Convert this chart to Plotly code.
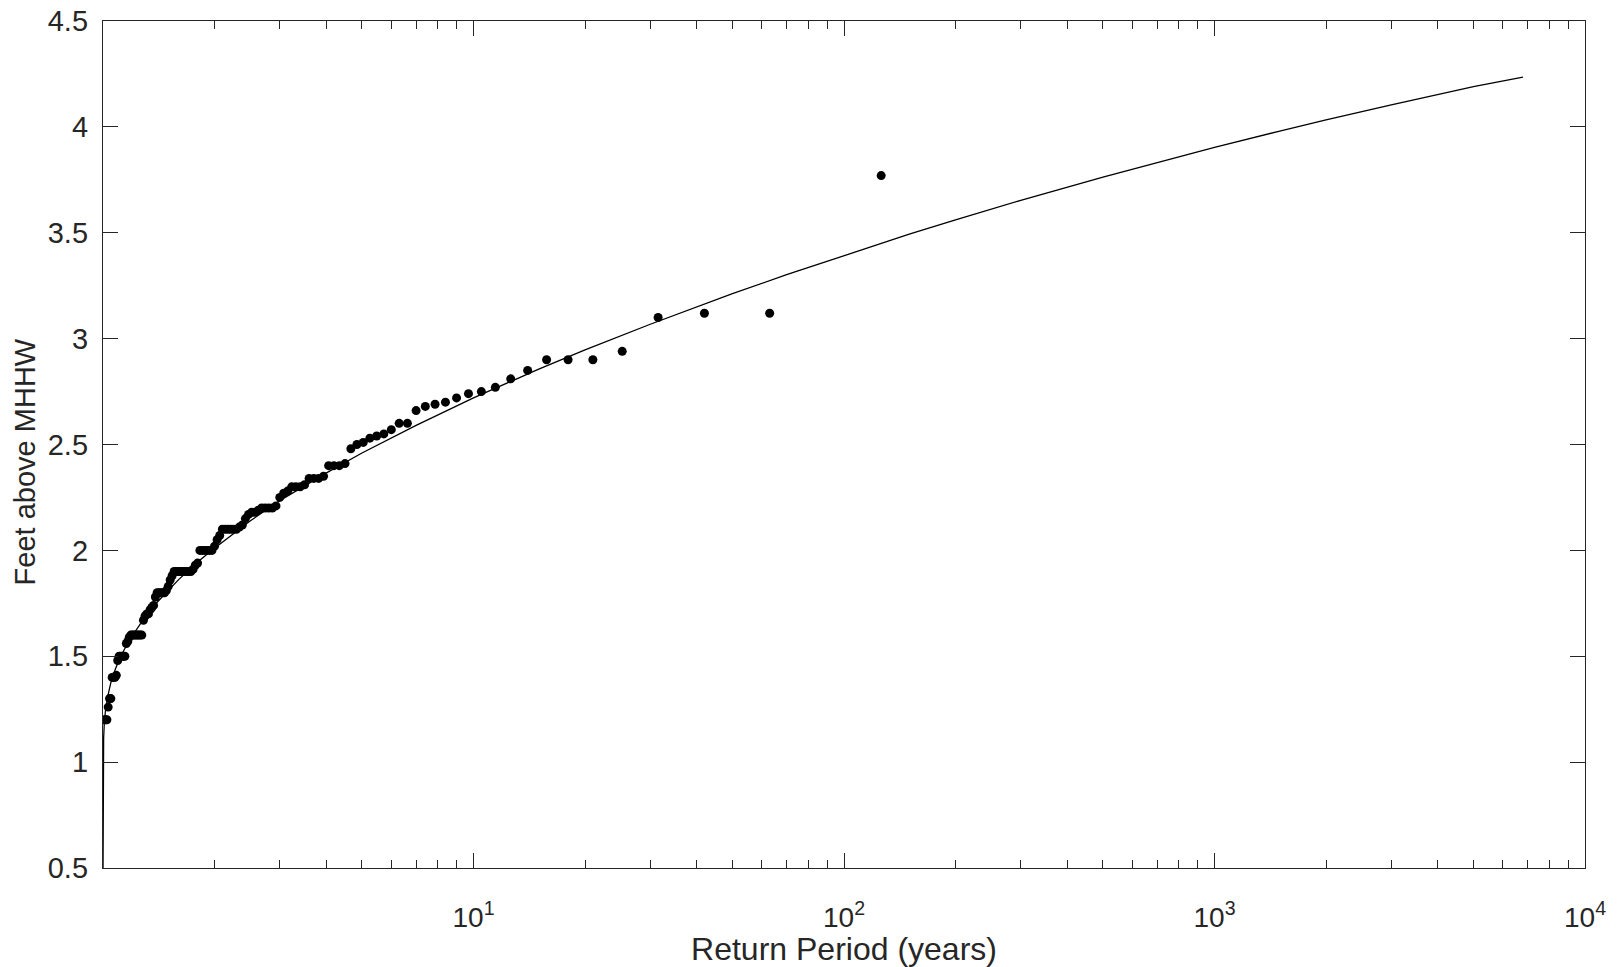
import plotly.graph_objects as go

# Observed annual maxima (return period in years, feet above MHHW)
return_period = [
    126, 63, 42, 31.5, 25.2, 21, 18, 15.75, 14, 12.6,
    11.4545, 10.5, 9.6923, 9, 8.4, 7.875, 7.4118, 7, 6.6316, 6.3,
    6, 5.7273, 5.4783, 5.25, 5.04, 4.8462, 4.6667, 4.5, 4.3448, 4.2,
    4.0645, 3.9375, 3.8182, 3.7059, 3.6, 3.5, 3.4054, 3.3158, 3.2308, 3.15,
    3.0732, 3.0, 2.9302, 2.8636, 2.8, 2.7391, 2.6809, 2.625, 2.5714, 2.52,
    2.4706, 2.4231, 2.3774, 2.3333, 2.2909, 2.25, 2.2105, 2.1724, 2.1356, 2.1,
    2.0656, 2.0323, 2.0, 1.9688, 1.9385, 1.9091, 1.8806, 1.8529, 1.8261, 1.8,
    1.7746, 1.75, 1.726, 1.7027, 1.68, 1.6579, 1.6364, 1.6154, 1.5949, 1.575,
    1.5556, 1.5366, 1.5181, 1.5, 1.4824, 1.4651, 1.4483, 1.4318, 1.4157, 1.4,
    1.3846, 1.3696, 1.3548, 1.3404, 1.3263, 1.3125, 1.299, 1.2857, 1.2727, 1.26,
    1.2475, 1.2353, 1.2233, 1.2115, 1.2, 1.1887, 1.1776, 1.1667, 1.156, 1.1455,
    1.1351, 1.125, 1.115, 1.1053, 1.0957, 1.0862, 1.0769, 1.0678, 1.0588, 1.05,
    1.0413, 1.0328, 1.0244, 1.0161, 1.008,
]
water_level = [
    3.77, 3.12, 3.12, 3.10, 2.94, 2.90, 2.90, 2.90, 2.85, 2.81,
    2.77, 2.75, 2.74, 2.72, 2.70, 2.69, 2.68, 2.66, 2.60, 2.60,
    2.57, 2.55, 2.54, 2.53, 2.51, 2.50, 2.48, 2.41, 2.40, 2.40,
    2.40, 2.35, 2.34, 2.34, 2.34, 2.31, 2.30, 2.30, 2.30, 2.28,
    2.27, 2.25, 2.21, 2.20, 2.20, 2.20, 2.20, 2.19, 2.18, 2.18,
    2.17, 2.15, 2.12, 2.11, 2.10, 2.10, 2.10, 2.10, 2.10, 2.10,
    2.07, 2.05, 2.02, 2.00, 2.00, 2.00, 2.00, 2.00, 2.00, 1.94,
    1.93, 1.91, 1.90, 1.90, 1.90, 1.90, 1.90, 1.90, 1.90, 1.90,
    1.90, 1.88, 1.86, 1.83, 1.81, 1.80, 1.80, 1.80, 1.80, 1.80,
    1.78, 1.74, 1.73, 1.72, 1.70, 1.70, 1.69, 1.67, 1.60, 1.60,
    1.60, 1.60, 1.60, 1.60, 1.60, 1.60, 1.59, 1.57, 1.56, 1.50,
    1.50, 1.50, 1.50, 1.50, 1.48, 1.41, 1.40, 1.40, 1.40, 1.30,
    1.30, 1.26, 1.20, 1.20, 1.20,
]

# Fitted extreme-value curve
fit_period = [
    1.00000001, 1.000001, 1.00001, 1.0001, 1.0005, 1.001, 1.002, 1.004, 1.008,
    1.015, 1.03, 1.05, 1.08, 1.12, 1.18, 1.26, 1.4, 1.6, 1.8, 2, 2.5, 3, 4, 5,
    7, 10, 15, 20, 30, 50, 70, 100, 150, 200, 300, 500, 700, 1000, 1500, 2000,
    3000, 5000, 6800,
]
fit_level = [
    0.470, 0.632, 0.732, 0.851, 0.952, 1.001, 1.055, 1.114, 1.181,
    1.240, 1.310, 1.375, 1.440, 1.505, 1.578, 1.652, 1.755, 1.862, 1.945, 2.010,
    2.140, 2.235, 2.365, 2.460, 2.590, 2.720, 2.856, 2.947, 3.068, 3.212, 3.302,
    3.393, 3.493, 3.561, 3.653, 3.763, 3.832, 3.903, 3.980, 4.033, 4.104, 4.190,
    4.235,
]

x_tick_values = [10, 100, 1000, 10000]
x_tick_text = ["10<sup>1</sup>", "10<sup>2</sup>", "10<sup>3</sup>", "10<sup>4</sup>"]
x_minor_ticks = [d * 10 ** e for e in range(0, 4) for d in range(2, 10)]

AX = "#262626"
FONT = "Liberation Sans, Arial, Helvetica, sans-serif"

fig = go.Figure()
fig.add_trace(go.Scatter(
    x=fit_period, y=fit_level, mode="lines",
    line=dict(color="black", width=1.3), showlegend=False, hoverinfo="skip",
))
fig.add_trace(go.Scatter(
    x=return_period, y=water_level, mode="markers",
    marker=dict(color="black", size=9), showlegend=False,
))

fig.update_layout(
    width=1623, height=967,
    margin=dict(l=103, r=38, t=21, b=99),
    paper_bgcolor="white", plot_bgcolor="white",
    font=dict(family=FONT, color=AX),
)
fig.update_xaxes(
    type="log", range=[0, 4], automargin=False,
    tickmode="array", tickvals=x_tick_values, ticktext=x_tick_text,
    ticks="inside", ticklen=15, tickwidth=1.2, tickcolor=AX,
    minor=dict(tickmode="array", tickvals=x_minor_ticks, ticks="inside",
               ticklen=8, tickwidth=1, tickcolor=AX, showgrid=False),
    showline=True, linecolor=AX, linewidth=1.3, mirror="allticks",
    showgrid=False, zeroline=False, ticklabeloverflow="allow",
    tickfont=dict(size=28, color=AX), ticklabelstandoff=24,
    title=dict(text="Return Period (years)", font=dict(size=32, color=AX), standoff=24),
)
fig.update_yaxes(
    range=[0.5, 4.5], dtick=0.5, tick0=0.5, automargin=False,
    ticks="inside", ticklen=15, tickwidth=1.2, tickcolor=AX,
    showline=True, linecolor=AX, linewidth=1.3, mirror="allticks",
    showgrid=False, zeroline=False, ticklabeloverflow="allow",
    tickfont=dict(size=29, color=AX), ticklabelstandoff=8,
)
fig.add_annotation(
    text="Feet above MHHW", textangle=-90,
    xref="paper", yref="paper", x=-0.052, y=0.48,
    xanchor="center", yanchor="middle", showarrow=False,
    font=dict(size=29, color=AX),
)

# remove the browser's default 8px body margin so the figure fills the window
fig.write_html(
    "out.html",
    config={"displayModeBar": False},
    post_script="document.body.style.margin='0';",
)
